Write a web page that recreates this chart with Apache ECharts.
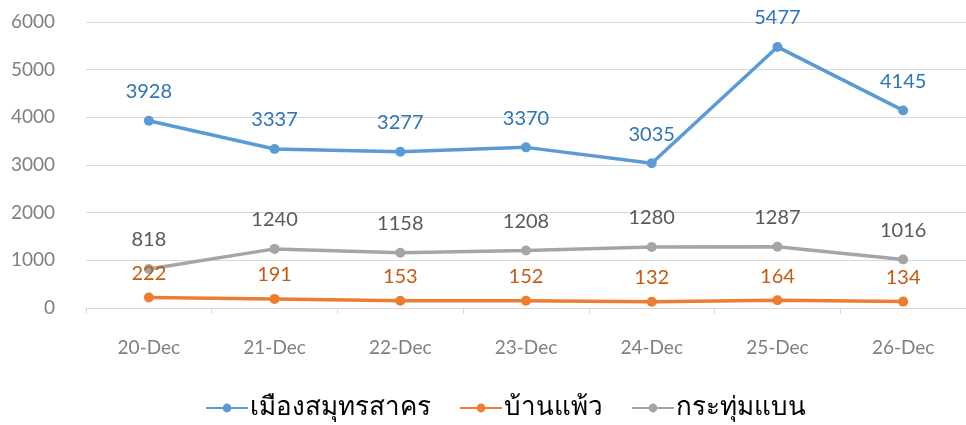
<!DOCTYPE html>
<html><head><meta charset="utf-8">
<script src="https://cdn.jsdelivr.net/npm/echarts@6/dist/echarts.min.js"></script>
<style>html,body{margin:0;padding:0;background:#fff}#c{width:966px;height:425px}</style>
</head><body><div id="c"></div>
<script>
const categories = ['20-Dec','21-Dec','22-Dec','23-Dec','24-Dec','25-Dec','26-Dec'];
const seriesNames = ['เมืองสมุทรสาคร','บ้านแพ้ว','กระทุ่มแบน'];
const muang = [3928,3337,3277,3370,3035,5477,4145];
const banphaeo = [222,191,153,152,132,164,134];
const krathum = [818,1240,1158,1208,1280,1287,1016];
const yTicks = [0,1000,2000,3000,4000,5000,6000];

const colors = ['#5B9BD5','#ED7D31','#A5A5A5'];
const labelColors = ['#2E75B6','#C55A11','#595959'];
const datas = [muang, banphaeo, krathum];
const font = 'Lato, "Noto Sans", sans-serif';

const chart = echarts.init(document.getElementById('c'));
chart.setOption({
  animation:false,
  color: colors,
  grid:{left:86,right:-6,top:22,bottom:117,containLabel:false},
  legend:{
    bottom:-1,left:200,itemWidth:42,itemHeight:11,itemGap:28,
    textStyle:{fontSize:26,color:'#000',fontFamily:'"Noto Sans", sans-serif',padding:[0,0,0,-3]},
    data: seriesNames
  },
  xAxis:{
    type:'category',data:categories,boundaryGap:true,
    axisLine:{lineStyle:{color:'#D9D9D9',width:1}},
    axisTick:{show:true,length:6,lineStyle:{color:'#D9D9D9'}},
    axisLabel:{color:'#7F7F7F',fontSize:19,fontFamily:font,margin:30}
  },
  yAxis:{
    type:'value',min:yTicks[0],max:yTicks[yTicks.length-1],interval:1000,
    axisLine:{show:false},axisTick:{show:false},
    splitLine:{lineStyle:{color:'#D9D9D9',width:1}},
    axisLabel:{color:'#7F7F7F',fontSize:19,fontFamily:font,margin:31,formatter:v=>String(v)}
  },
  series: seriesNames.map((n,i)=>({
    name:n,type:'line',data:datas[i],
    symbol:'circle',symbolSize:10,
    lineStyle:{width:3.5,color:colors[i]},
    itemStyle:{color:colors[i]},
    label:{show:true,position:'top',distance:i===1?9:14,color:labelColors[i],fontSize:20,fontFamily:font}
  }))
});
</script></body></html>
